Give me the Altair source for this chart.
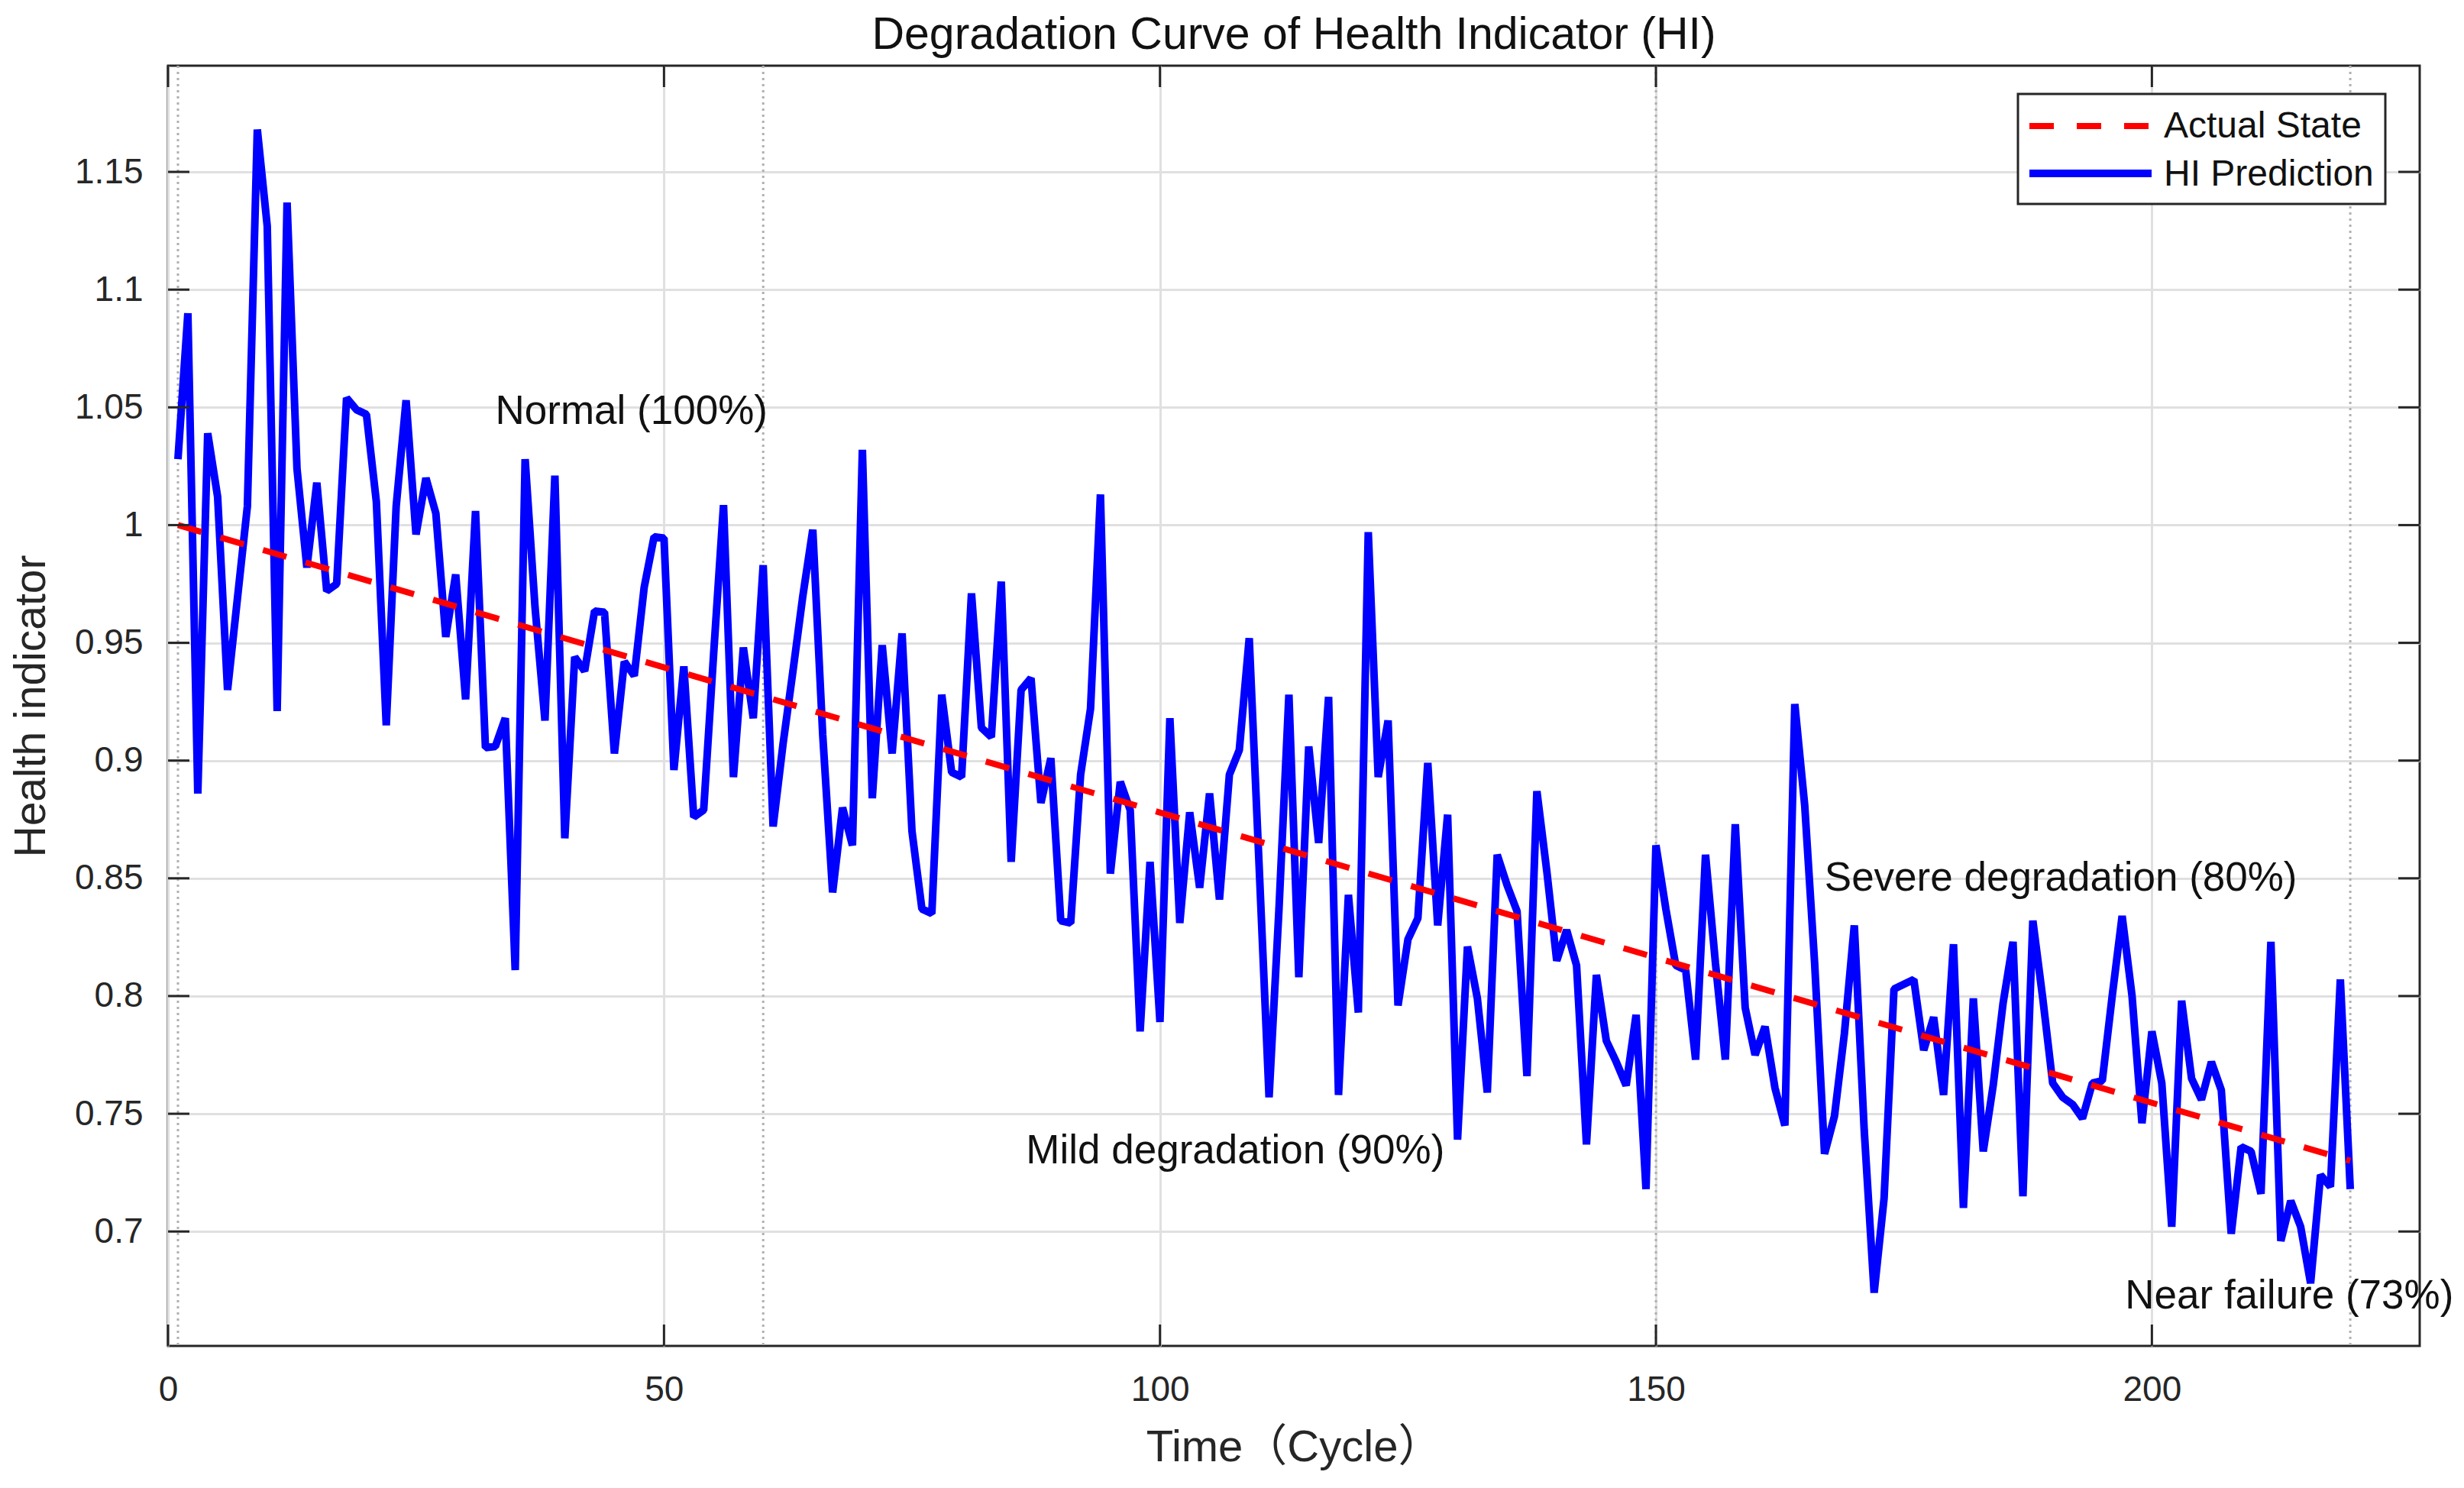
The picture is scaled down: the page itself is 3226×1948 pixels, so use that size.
import altair as alt
import pandas as pd

# ---------------- data ----------------
cycles = list(range(1, 221))
hi_pred = [
    1.028, 1.090, 0.886, 1.039, 1.012, 0.930, 0.969, 1.008, 1.168, 1.127,
    0.921, 1.137, 1.024, 0.982, 1.018, 0.972, 0.975, 1.054, 1.049, 1.047,
    1.010, 0.915, 1.008, 1.053, 0.996, 1.020, 1.005, 0.9525, 0.979, 0.926,
    1.006, 0.9055, 0.906, 0.918, 0.811, 1.028, 0.965, 0.917, 1.021, 0.867,
    0.944, 0.938, 0.9635, 0.963, 0.903, 0.942, 0.936, 0.9735, 0.995, 0.9945,
    0.896, 0.940, 0.876, 0.879, 0.945, 1.0085, 0.893, 0.948, 0.918, 0.983,
    0.872, 0.907, 0.938, 0.970, 0.998, 0.911, 0.844, 0.880, 0.864, 1.032,
    0.884, 0.949, 0.903, 0.954, 0.870, 0.837, 0.835, 0.928, 0.895, 0.893,
    0.971, 0.914, 0.910, 0.976, 0.857, 0.930, 0.935, 0.882, 0.901, 0.832,
    0.831, 0.894, 0.922, 1.013, 0.852, 0.891, 0.879, 0.785, 0.857, 0.789,
    0.918, 0.831, 0.878, 0.846, 0.886, 0.841, 0.894, 0.9045, 0.952, 0.855,
    0.757, 0.837, 0.928, 0.808, 0.906, 0.865, 0.927, 0.758, 0.843, 0.793,
    0.997, 0.893, 0.917, 0.796, 0.824, 0.833, 0.899, 0.830, 0.877, 0.739,
    0.821, 0.799, 0.759, 0.860, 0.847, 0.836, 0.766, 0.887, 0.853, 0.815,
    0.828, 0.813, 0.737, 0.809, 0.781, 0.772, 0.762, 0.792, 0.718, 0.864,
    0.837, 0.813, 0.811, 0.773, 0.860, 0.814, 0.773, 0.873, 0.795, 0.775,
    0.787, 0.761, 0.745, 0.924, 0.881, 0.814, 0.733, 0.749, 0.784, 0.830,
    0.743, 0.674, 0.714, 0.803, 0.805, 0.807, 0.777, 0.791, 0.758, 0.822,
    0.710, 0.799, 0.734, 0.762, 0.797, 0.823, 0.715, 0.832, 0.799, 0.763,
    0.757, 0.754, 0.748, 0.763, 0.764, 0.800, 0.834, 0.800, 0.746, 0.785,
    0.763, 0.702, 0.798, 0.765, 0.756, 0.772, 0.760, 0.699, 0.736, 0.734,
    0.716, 0.823, 0.696, 0.713, 0.702, 0.678, 0.724, 0.719, 0.807, 0.718,
]
actual_cycles = [1, 220]
actual_values = [1.0, 0.73]
stage_bounds = [1, 60, 150, 220]
stage_labels = ["Normal (100%)", "Mild degradation (90%)",
                "Severe degradation (80%)", "Near failure (73%)"]
stage_label_x = [33, 86.5, 167, 197.3]
stage_label_y = [1.048, 0.734, 0.850, 0.6725]
x_ticks = [0, 50, 100, 150, 200]
y_ticks = [0.7, 0.75, 0.8, 0.85, 0.9, 0.95, 1.0, 1.05, 1.1, 1.15]
legend_names = ["Actual State", "HI Prediction"]
title_text = "Degradation Curve of Health Indicator (HI)"
x_title = "Time（Cycle）"
y_title = "Health indicator"

# ---------------- layout ----------------
W, H = 2948, 1676
FONT = "Liberation Sans, Arial, Noto Sans CJK SC, sans-serif"
AX = "#262626"
TICK = 28

xs = alt.Scale(domain=[0, 227], nice=False, zero=False)
ys = alt.Scale(domain=[0.6514, 1.1951], nice=False, zero=False)

x_axis = alt.Axis(values=x_ticks, grid=True, gridColor="#e0e0e0", gridWidth=3,
                  ticks=False, domain=False, labelFontSize=46, labelFont=FONT,
                  labelColor=AX, labelPadding=35, labelFlush=False,
                  labelOverlap=False, title=x_title, titleFontSize=58,
                  titleFont=FONT, titleFontWeight="normal", titleColor=AX,
                  titleX=W / 2, titleY=133, titleBaseline="middle",
                  titleAlign="center")
y_axis = alt.Axis(values=y_ticks, format="~g", grid=True, gridColor="#e0e0e0",
                  gridWidth=3, ticks=False, domain=False, labelFontSize=46,
                  labelFont=FONT, labelColor=AX, labelPadding=33,
                  labelFlush=False, labelOverlap=False, title=y_title,
                  titleFontSize=57, titleFont=FONT, titleFontWeight="normal",
                  titleColor=AX, titleAngle=270, titleX=-179, titleY=H / 2,
                  titleBaseline="middle", titleAlign="center")


def X(f):
    return alt.X(f"{f}:Q", scale=xs, axis=x_axis)


def Y(f):
    return alt.Y(f"{f}:Q", scale=ys, axis=y_axis)


hi_df = pd.DataFrame({"cycle": cycles, "value": hi_pred})
act_df = pd.DataFrame({"cycle": actual_cycles, "value": actual_values})
stage_df = pd.DataFrame({"cycle": stage_bounds})
lab_df = pd.DataFrame({"cycle": stage_label_x, "value": stage_label_y,
                       "label": stage_labels})
xt_df = pd.DataFrame({"cycle": x_ticks})
yt_df = pd.DataFrame({"value": y_ticks})
one = pd.DataFrame({"t": [title_text]})
leg0 = pd.DataFrame({"t": [legend_names[0]]})
leg1 = pd.DataFrame({"t": [legend_names[1]]})

dotted = alt.Chart(stage_df).mark_rule(color="#b0b0b0", strokeWidth=3,
                                       strokeDash=[3, 5]).encode(x=X("cycle"))

hi_line = alt.Chart(hi_df).mark_line(color="#0000ff", strokeWidth=10,
                                     strokeJoin="bevel").encode(x=X("cycle"), y=Y("value"))

act_line = alt.Chart(act_df).mark_line(color="#ff0000", strokeWidth=8,
                                       strokeDash=[32, 26]).encode(x=X("cycle"), y=Y("value"))

labels = alt.Chart(lab_df).mark_text(align="left", baseline="middle", fontSize=53,
                                     font=FONT, color="#111111").encode(
    x=X("cycle"), y=Y("value"), text="label:N")

xt_bottom = alt.Chart(xt_df).mark_rule(color=AX, strokeWidth=3).encode(
    x=X("cycle"), y=alt.value(H), y2=alt.value(H - TICK))
xt_top = alt.Chart(xt_df).mark_rule(color=AX, strokeWidth=3).encode(
    x=X("cycle"), y=alt.value(0), y2=alt.value(TICK))
yt_left = alt.Chart(yt_df).mark_rule(color=AX, strokeWidth=3).encode(
    y=Y("value"), x=alt.value(0), x2=alt.value(TICK))
yt_right = alt.Chart(yt_df).mark_rule(color=AX, strokeWidth=3).encode(
    y=Y("value"), x=alt.value(W), x2=alt.value(W - TICK))

title = alt.Chart(one).mark_text(fontSize=59, font=FONT, color="#111111",
                                 align="center", baseline="middle").encode(
    text="t:N", x=alt.value(W / 2), y=alt.value(-40))

# legend (drawn in pixel space, top-right)
LX0, LX1, LY0, LY1 = 2422, 2903, 37, 181
leg_box = alt.Chart(one).mark_rect(fill="white", stroke=AX, strokeWidth=3).encode(
    x=alt.value(LX0), x2=alt.value(LX1), y=alt.value(LY0), y2=alt.value(LY1))
leg_red = alt.Chart(one).mark_rule(color="#ff0000", strokeWidth=8,
                                   strokeDash=[32, 30]).encode(
    x=alt.value(LX0 + 15), x2=alt.value(LX0 + 175), y=alt.value(79))
leg_blue = alt.Chart(one).mark_rule(color="#0000ff", strokeWidth=10).encode(
    x=alt.value(LX0 + 15), x2=alt.value(LX0 + 175), y=alt.value(141))
leg_t0 = alt.Chart(leg0).mark_text(align="left", baseline="middle", fontSize=48,
                                   font=FONT, color="#111111").encode(
    text="t:N", x=alt.value(LX0 + 191), y=alt.value(80))
leg_t1 = alt.Chart(leg1).mark_text(align="left", baseline="middle", fontSize=48,
                                   font=FONT, color="#111111").encode(
    text="t:N", x=alt.value(LX0 + 191), y=alt.value(143))

chart = alt.layer(
    dotted, hi_line, act_line, labels, xt_bottom, xt_top, yt_left, yt_right,
    title, leg_box, leg_red, leg_blue, leg_t0, leg_t1
).properties(
    width=W, height=H,
    padding={"left": 212, "top": 78, "right": 50, "bottom": 170},
    autosize=alt.AutoSizeParams(type="none"),
    background="white",
).configure_view(stroke=AX, strokeWidth=3)

chart.save("out.html", embed_options={"renderer": "svg", "actions": False})
